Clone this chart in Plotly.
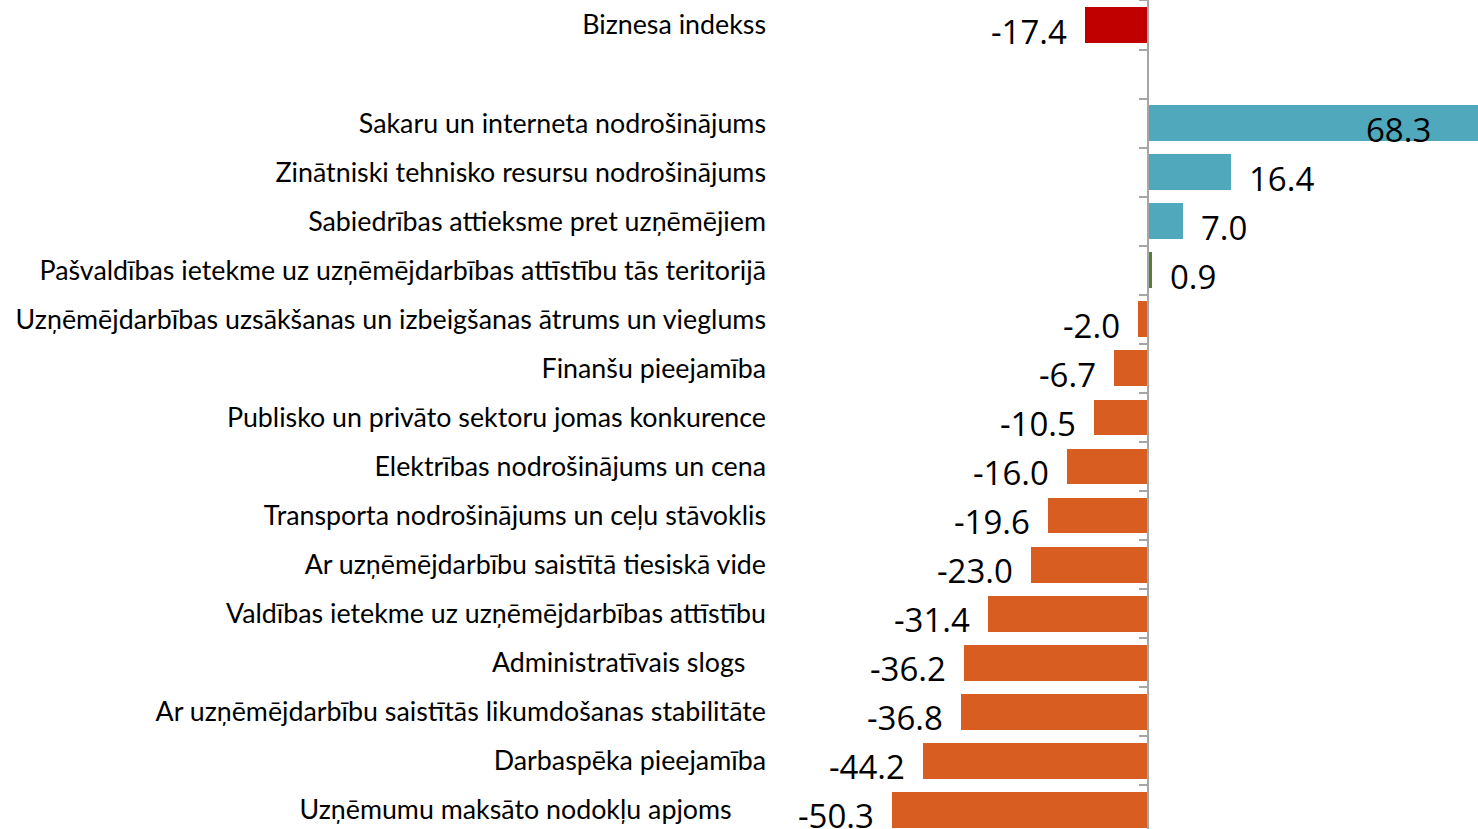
import plotly.graph_objects as go

# categories, top to bottom
categories = [
    "Biznesa indekss",
    "Sakaru un interneta nodrošinājums",
    "Zinātniski tehnisko resursu nodrošinājums",
    "Sabiedrības attieksme pret uzņēmējiem",
    "Pašvaldības ietekme uz uzņēmējdarbības attīstību tās teritorijā",
    "Uzņēmējdarbības uzsākšanas un izbeigšanas ātrums un vieglums",
    "Finanšu pieejamība",
    "Publisko un privāto sektoru jomas konkurence",
    "Elektrības nodrošinājums un cena",
    "Transporta nodrošinājums un ceļu stāvoklis",
    "Ar uzņēmējdarbību saistītā tiesiskā vide",
    "Valdības ietekme uz uzņēmējdarbības attīstību",
    "Administratīvais slogs\u00a0\u00a0\u00a0",
    "Ar uzņēmējdarbību saistītās likumdošanas stabilitāte",
    "Darbaspēka pieejamība",
    "Uzņēmumu maksāto nodokļu apjoms\u00a0\u00a0\u00a0\u00a0\u00a0",
]
values = [-17.4, 68.3, 16.4, 7.0, 0.9, -2.0, -6.7, -10.5, -16.0, -19.6,
          -23.0, -31.4, -36.2, -36.8, -44.2, -50.3]

RED, TEAL, GREEN, ORANGE = "#C00000", "#4FA8BC", "#548235", "#D75E20"
colors = [RED, TEAL, TEAL, TEAL, GREEN] + [ORANGE] * 11

# row slots: index row first, then one empty slot, then the factors
rows = [0] + [i + 1 for i in range(1, len(categories))]

x_range = [-72.4, 65.0]
idx_scale = 5.08 / 3.62  # index bar drawn on its own, shorter scale
x2_range = [x_range[0] * idx_scale, x_range[1] * idx_scale]
y_range = [16.39, -0.51]
zero_pos = -x_range[0] / (x_range[1] - x_range[0])

fig = go.Figure()
fig.add_trace(go.Bar(x=values[1:], y=rows[1:], orientation="h", width=0.73,
                     marker=dict(color=colors[1:], line_width=0),
                     xaxis="x", yaxis="y", hoverinfo="skip"))
fig.add_trace(go.Bar(x=values[:1], y=rows[:1], orientation="h", width=0.73,
                     marker=dict(color=colors[:1], line_width=0),
                     xaxis="x2", yaxis="y2", hoverinfo="skip"))

# value labels
lab_font = dict(family="Open Sans", size=33, color="#000000")
for i, v in enumerate(values):
    xref = "x2" if i == 0 else "x"
    if v > x_range[1]:
        x, anchor, shift = x_range[1], "right", -45
    elif v < 0:
        x, anchor, shift = v, "right", -16
    else:
        x, anchor, shift = v, "left", 16
    fig.add_annotation(x=x, y=rows[i], xref=xref, yref="y", text=f"{v:.1f}",
                       showarrow=False, xanchor=anchor, yanchor="middle",
                       xshift=shift, yshift=-6, font=lab_font)

fig.update_layout(
    width=1478, height=829,
    margin=dict(l=780, r=0, t=0, b=0),
    plot_bgcolor="white", paper_bgcolor="white",
    showlegend=False, bargap=0,
    xaxis=dict(range=x_range, showgrid=False, zeroline=False,
               showticklabels=False, showline=False, ticks=""),
    xaxis2=dict(range=x2_range, overlaying="x", anchor="y2", visible=False),
    yaxis=dict(range=y_range, tickvals=rows, ticktext=categories,
               showgrid=False, zeroline=False, showline=False, ticks="",
               ticklabelstandoff=13,
               tickfont=dict(family="Lato", size=26.8, color="#000000")),
    yaxis2=dict(range=y_range, overlaying="y", anchor="free",
                position=zero_pos, side="left", showgrid=False,
                zeroline=False, showticklabels=False, showline=True,
                linecolor="#A6A6A6", linewidth=1.5, ticks="outside",
                ticklen=8, tickcolor="#A6A6A6", tickwidth=1.5,
                tickvals=[r - 0.5 for r in range(18)]),
)

fig.write_html("out.html", config={"displayModeBar": False},
               post_script="document.body.style.margin='0px';")
